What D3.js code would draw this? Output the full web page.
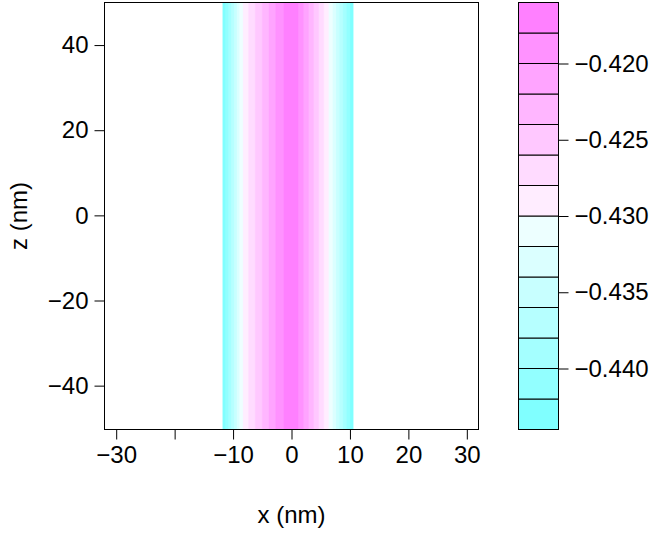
<!DOCTYPE html>
<html>
<head>
<meta charset="utf-8">
<script src="https://cdn.jsdelivr.net/npm/d3@7"></script>
<style>
  body { margin: 0; background: #fff; }
  svg { display: block; }
  text { font-family: "Liberation Sans", Arial, sans-serif; }
</style>
</head>
<body>
<div id="chart"></div>
<script>
// grid (nm) and the potential profile across x (constant along z)
var xGrid = [-11.8, -11.0, -10.2, -9.4, -8.6, -7.8, -7.0, -6.2, -5.4, -4.6, -3.8, -3.0, -2.2, -1.4, -0.6,
             0.2, 1.0, 1.8, 2.6, 3.4, 4.2, 5.0, 5.8, 6.6, 7.4, 8.2, 9.0, 9.8, 10.6]
var zGrid = [-50.3, -25, 0, 25, 50]
var profile = [-0.4438, -0.4408, -0.4375, -0.4343, -0.4308, -0.4288, -0.4274, -0.4260, -0.4247, -0.4233,
               -0.4219, -0.4205, -0.4192, -0.4181, -0.4172, -0.4168, -0.4177, -0.4195, -0.4213, -0.4232,
               -0.4250, -0.4268, -0.4287, -0.4306, -0.4333, -0.4360, -0.4387, -0.4413, -0.4438]

var levels = [-0.444, -0.442, -0.440, -0.438, -0.436, -0.434, -0.432, -0.430, -0.428, -0.426,
              -0.424, -0.422, -0.420, -0.418, -0.416]
var levelColors = ["#80FFFF", "#92FFFF", "#A4FFFF", "#B6FFFF", "#C8FFFF", "#DBFFFF", "#EDFFFF",
                   "#FFEDFF", "#FFDBFF", "#FFC8FF", "#FFB6FF", "#FFA4FF", "#FF92FF", "#FF80FF"]
var xTicks = [-30, -20, -10, 0, 10, 20, 30]
var zTicks = [-40, -20, 0, 20, 40]
var keyTicks = [-0.440, -0.435, -0.430, -0.425, -0.420]

var W = 654, H = 533
var fs = 24

var svg = d3.select("#chart").append("svg")
    .attr("width", W)
    .attr("height", H)

var x = d3.scaleLinear().domain([-32, 32]).range([104.5, 478.5])
var z = d3.scaleLinear().domain([-50.3, 50]).range([429.5, 2.5])

// grid index space -> data space
var nx = xGrid.length, nz = zGrid.length
var colToX = d3.scaleLinear().domain([0.5, nx - 0.5]).range([xGrid[0], xGrid[nx - 1]])
var rowToZ = d3.scaleLinear().domain([0.5, nz - 0.5]).range([zGrid[0], zGrid[nz - 1]])

var values = []
zGrid.forEach(function () { profile.forEach(function (v) { values.push(v) }) })

var contours = d3.contours()
    .size([nx, nz])
    .thresholds(levels.slice(0, -1))(values)

var proj = d3.geoTransform({
  point: function (px, py) { this.stream.point(x(colToX(px)), z(rowToZ(py))) }
})

svg.append("clipPath").attr("id", "dataClip")
  .append("rect")
    .attr("x", x(xGrid[0]))
    .attr("y", z(zGrid[nz - 1]))
    .attr("width", x(xGrid[nx - 1]) - x(xGrid[0]))
    .attr("height", z(zGrid[0]) - z(zGrid[nz - 1]))

svg.append("g")
    .attr("clip-path", "url(#dataClip)")
  .selectAll("path")
  .data(contours)
  .enter()
  .append("path")
    .attr("d", d3.geoPath(proj))
    .attr("fill", function (d, i) { return levelColors[i] })
    .attr("stroke", function (d, i) { return levelColors[i] })
    .attr("stroke-width", 0.3)

// box
svg.append("rect")
    .attr("x", x.range()[0]).attr("y", z.range()[1])
    .attr("width", x.range()[1] - x.range()[0])
    .attr("height", z.range()[0] - z.range()[1])
    .attr("fill", "none").attr("stroke", "#000").attr("stroke-width", 1)

var fmt = d3.format("")
var xAxis = svg.append("g")
    .attr("transform", "translate(0," + z.range()[0] + ")")
    .call(d3.axisBottom(x).tickValues(xTicks).tickSize(10).tickPadding(6)
      .tickFormat(function (d) { return d === -20 ? "" : fmt(d) }))
var zAxis = svg.append("g")
    .attr("transform", "translate(" + x.range()[0] + ",0)")
    .call(d3.axisLeft(z).tickValues(zTicks).tickSize(10).tickPadding(6).tickFormat(fmt))

// colour key
var key = d3.scaleLinear().domain([levels[0], levels[levels.length - 1]]).range([429.5, 2.5])
var keyX0 = 518.5, keyX1 = 558.5

svg.append("g").selectAll("rect")
  .data(levelColors)
  .enter()
  .append("rect")
    .attr("x", keyX0)
    .attr("y", function (d, i) { return key(levels[i + 1]) })
    .attr("width", keyX1 - keyX0)
    .attr("height", function (d, i) { return key(levels[i]) - key(levels[i + 1]) })
    .attr("fill", function (d) { return d })
    .attr("stroke", "#000")
    .attr("stroke-width", 1)

var kAxis = svg.append("g")
    .attr("transform", "translate(" + keyX1 + ",0)")
    .call(d3.axisRight(key).tickValues(keyTicks).tickSize(10).tickPadding(6).tickFormat(d3.format(".3f")))

;[xAxis, zAxis, kAxis].forEach(function (g) {
  g.select(".domain").remove()
  g.selectAll("text").attr("font-size", fs).attr("fill", "#000")
    .attr("font-family", "'Liberation Sans', Arial, sans-serif")
  g.selectAll(".tick line").attr("stroke", "#000")
})

svg.append("text")
    .attr("x", (x.range()[0] + x.range()[1]) / 2)
    .attr("y", 515)
    .attr("dy", "0.35em")
    .attr("text-anchor", "middle")
    .attr("font-size", fs)
    .text("x (nm)")

svg.append("text")
    .attr("transform", "translate(19," + ((z.range()[0] + z.range()[1]) / 2) + ") rotate(-90)")
    .attr("dy", "0.35em")
    .attr("text-anchor", "middle")
    .attr("font-size", fs)
    .text("z (nm)")
</script>
</body>
</html>
